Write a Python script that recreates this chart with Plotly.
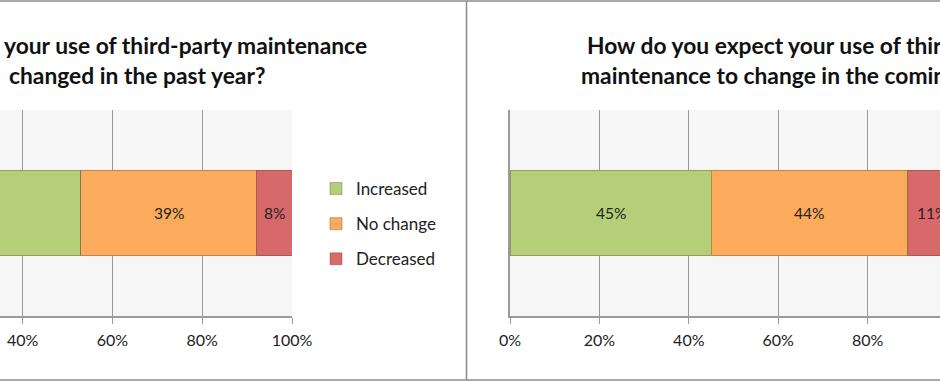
import plotly.graph_objects as go

W, H = 940, 381

categories = ["Increased", "No change", "Decreased"]
past_year = [53, 39, 8]
coming_year = [45, 44, 11]
colors = ["#b4cf78", "#fbab5b", "#d8696a"]
tick_vals = [0, 20, 40, 60, 80, 100]
tick_text = ["0%", "20%", "40%", "60%", "80%", "100%"]
left_title = ["your use of third-party maintenance", "changed in the past year?"]
right_title = ["How do you expect your use of third-party", "maintenance to change in the coming year?"]

FONT = "Lato"

def px(x):
    return x / W

def py(y):
    return (H - y) / H

fig = go.Figure()

for i, cat in enumerate(categories):
    fig.add_trace(go.Bar(
        x=[past_year[i]], y=["q"], orientation="h", name=cat,
        marker=dict(color=colors[i], line=dict(color="rgba(90,60,40,0.35)", width=1)),
        textposition="none", legendgroup=cat, xaxis="x", yaxis="y", hoverinfo="skip",
    ))
for i, cat in enumerate(categories):
    fig.add_trace(go.Bar(
        x=[coming_year[i]], y=["q"], orientation="h", name=cat, showlegend=False,
        marker=dict(color=colors[i], line=dict(color="rgba(90,60,40,0.35)", width=1)),
        textposition="none", legendgroup=cat, xaxis="x2", yaxis="y2", hoverinfo="skip",
    ))

# left plot: 0% at -157px, 100% at 292px -> visible from 0px
l0, l100 = -157.0, 292.0
r0, r100 = 510.0, 957.0
left_range = [(0 - l0) / (l100 - l0) * 100, 100]
right_range = [0, (W - r0) / (r100 - r0) * 100]

xcommon = dict(
    tickvals=tick_vals, ticktext=tick_text, showgrid=True, gridcolor="#9a9a9a", gridwidth=1,
    showline=True, linecolor="#9a9a9a", linewidth=1.5, ticks="outside", ticklen=6,
    tickcolor="#9a9a9a", tickfont=dict(family=FONT, size=16, color="#222"),
    ticklabelstandoff=3, zeroline=False, fixedrange=True,
)
ycommon = dict(range=[-0.5, 0.5], showticklabels=False, showgrid=False, zeroline=False, fixedrange=True)

ybot, ytop = py(316), py(110)

fig.update_layout(
    width=W, height=H, margin=dict(l=0, r=0, t=0, b=0, autoexpand=False),
    paper_bgcolor="white", plot_bgcolor="#f6f6f6",
    barmode="stack", bargap=0.585,
    font=dict(family=FONT, size=16, color="#222"),
    xaxis=dict(domain=[0, px(l100)], range=left_range, anchor="y", **xcommon),
    yaxis=dict(domain=[ybot, ytop], anchor="x", showline=False, **ycommon),
    xaxis2=dict(domain=[px(r0), 1], range=right_range, anchor="y2", **xcommon),
    yaxis2=dict(domain=[ybot, ytop], anchor="x2", showline=True, linecolor="#9a9a9a", linewidth=1.5, **ycommon),
    legend=dict(x=px(316), y=py(171), xanchor="left", yanchor="top", traceorder="grouped",
                tracegroupgap=10, font=dict(family=FONT, size=17, color="#222"),
                bgcolor="rgba(0,0,0,0)", itemwidth=30),
    showlegend=True,
)

ann = []
# data labels, centred on each segment through the axis scales
for vals, xr, yr in [(past_year, "x", "y"), (coming_year, "x2", "y2")]:
    cum = 0
    for v in vals:
        ann.append(dict(text=f"{v}%", x=cum + v / 2, y="q", xref=xr, yref=yr, showarrow=False,
                        font=dict(family=FONT, size=15.5, color="#222")))
        cum += v

tfont = dict(family=FONT, size=22.8, color="#111")
for txt, x, y in [(left_title[0], 2, 45), (left_title[1], 7, 75),
                  (right_title[0], 585, 45), (right_title[1], 579, 75)]:
    ann.append(dict(text="<b>" + txt + "</b>", x=px(x), y=py(y), xref="paper", yref="paper",
                    xanchor="left", yanchor="middle", showarrow=False, font=tfont))
fig.update_layout(annotations=ann)

bc = "#8c8c8c"
fig.update_layout(shapes=[
    dict(type="line", xref="paper", yref="paper", x0=0, x1=1, y0=py(1), y1=py(1), line=dict(color=bc, width=1.5)),
    dict(type="line", xref="paper", yref="paper", x0=0, x1=1, y0=py(380), y1=py(380), line=dict(color=bc, width=1.5)),
    dict(type="line", xref="paper", yref="paper", x0=px(466.5), x1=px(466.5), y0=py(1), y1=py(380), line=dict(color=bc, width=1.5)),
])

fig.write_html("out.html", config={"displayModeBar": False},
               post_script="document.body.style.margin='0';document.documentElement.style.overflow='hidden';")
